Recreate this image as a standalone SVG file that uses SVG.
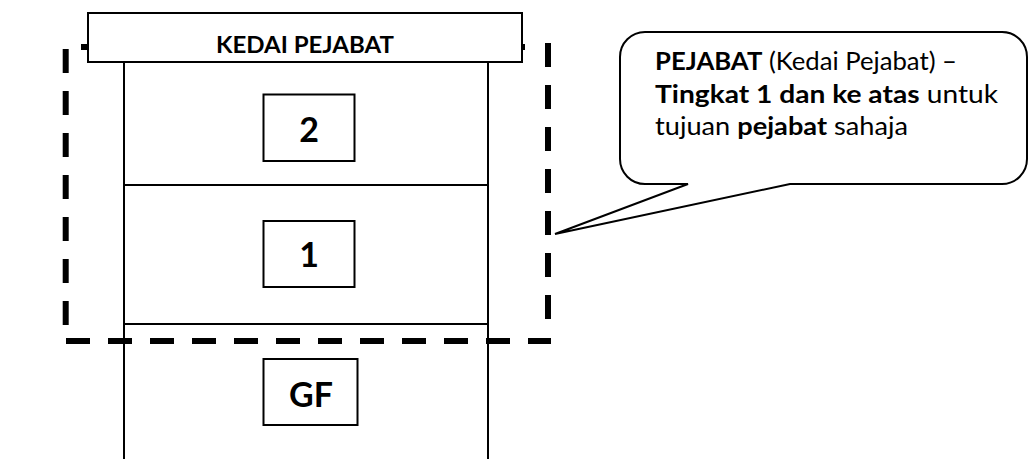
<svg xmlns="http://www.w3.org/2000/svg" width="1031" height="459" viewBox="0 0 1031 459">
<style>
.ln{stroke:#000;stroke-width:2;fill:none}
.bx{stroke:#000;stroke-width:2;fill:#fff}
.dash{stroke:#000;stroke-width:6;fill:none;stroke-dasharray:24 18}
.t{font-family:Lato,"Open Sans","Liberation Sans",sans-serif;fill:#000}
.b{font-weight:bold}
</style>
<rect width="1031" height="459" fill="#fff"/>
<g id="building">
<line class="ln" x1="124" y1="62" x2="124" y2="459"/>
<line class="ln" x1="488" y1="62" x2="488" y2="459"/>
<line class="ln" x1="124" y1="185" x2="488" y2="185"/>
<line class="ln" x1="124" y1="324" x2="488" y2="324"/>
</g>
<g id="connectors">
<line class="dash" x1="81" y1="47" x2="525" y2="47"/>
<line class="dash" x1="65.7" y1="49" x2="65.7" y2="325"/>
<line class="dash" x1="548" y1="43" x2="548" y2="319"/>
<line class="dash" x1="66" y1="341" x2="551" y2="341"/>
</g>
<g id="title">
<rect class="bx" x="88" y="13" width="434" height="49"/>
<text class="t b" x="305" y="52.5" font-size="23.5" text-anchor="middle" textLength="178" lengthAdjust="spacingAndGlyphs">KEDAI PEJABAT</text>
</g>
<g id="floor2">
<rect class="bx" x="263.5" y="94.5" width="91" height="66.5"/>
<text class="t b" x="309" y="142" font-size="34" text-anchor="middle">2</text>
</g>
<g id="floor1">
<rect class="bx" x="263.5" y="221" width="91" height="66"/>
<text class="t b" x="309" y="267.3" font-size="34" text-anchor="middle">1</text>
</g>
<g id="floorGF">
<rect class="bx" x="263.5" y="359" width="94" height="66"/>
<text class="t b" x="311" y="406.7" font-size="34" text-anchor="middle">GF</text>
</g>
<g id="callout">
<path class="bx" d="M645,32 H1002 A25,25 0 0 1 1027,57 V159 A25,25 0 0 1 1002,184 H790 L555,234 L688,184 H645 A25,25 0 0 1 620,159 V57 A25,25 0 0 1 645,32 Z"/>
<text class="t" x="655" y="70" font-size="25" textLength="302" lengthAdjust="spacingAndGlyphs"><tspan class="b">PEJABAT</tspan> (Kedai Pejabat) –</text>
<text class="t" x="655" y="103" font-size="25" textLength="343" lengthAdjust="spacingAndGlyphs"><tspan class="b">Tingkat 1 dan ke atas</tspan> untuk</text>
<text class="t" x="655" y="135" font-size="25" textLength="253" lengthAdjust="spacingAndGlyphs">tujuan <tspan class="b">pejabat</tspan> sahaja</text>
</g>
</svg>
